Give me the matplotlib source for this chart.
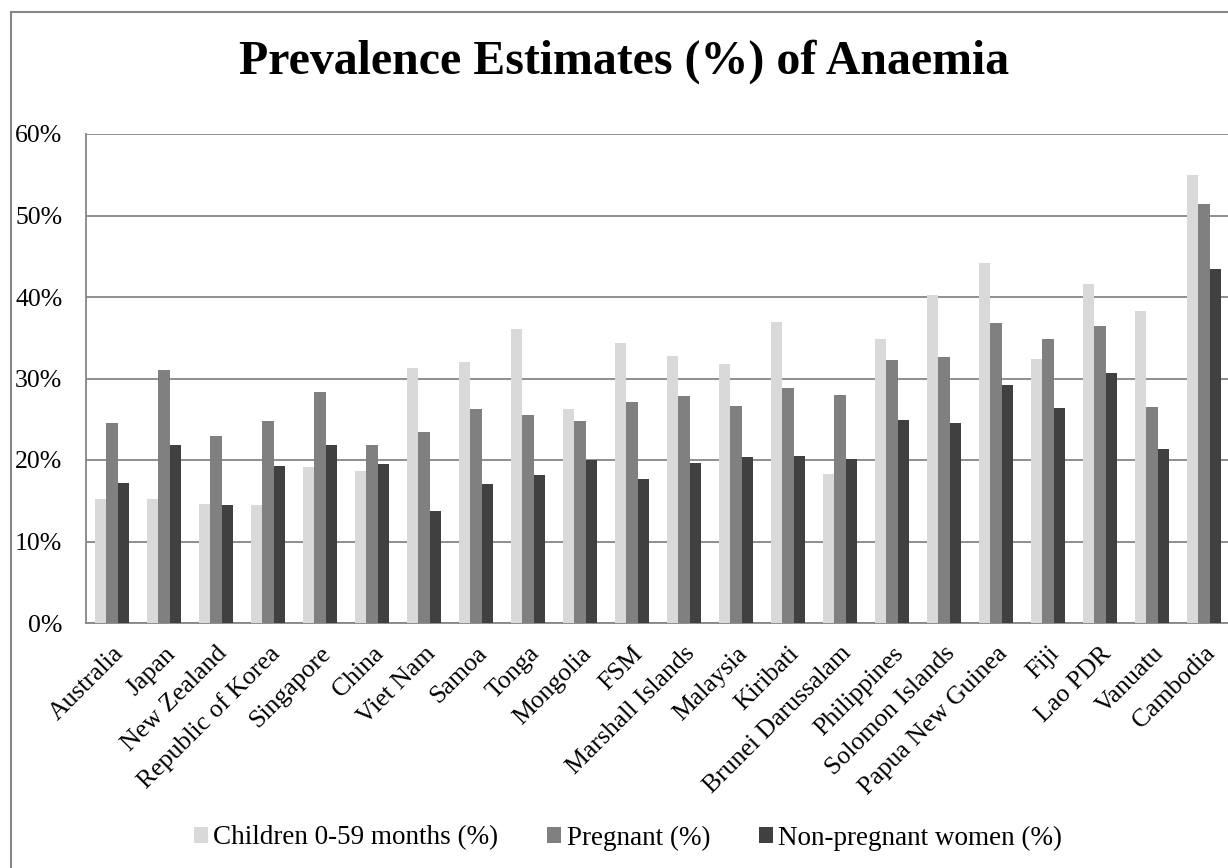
import numpy as np
import matplotlib
matplotlib.use("Agg")
import matplotlib.pyplot as plt
from matplotlib.patches import Rectangle
from matplotlib.ticker import PercentFormatter

plt.rcParams["font.family"] = ["Liberation Serif", "DejaVu Serif"]

countries = ["Australia", "Japan", "New Zealand", "Republic of Korea", "Singapore",
             "China", "Viet Nam", "Samoa", "Tonga", "Mongolia", "FSM",
             "Marshall Islands", "Malaysia", "Kiribati", "Brunei Darussalam",
             "Philippines", "Solomon Islands", "Papua New Guinea", "Fiji",
             "Lao PDR", "Vanuatu", "Cambodia"]

children = [15.2, 15.2, 14.6, 14.5, 19.1, 18.7, 31.3, 32.0, 36.1, 26.2, 34.4,
            32.8, 31.8, 36.9, 18.3, 34.9, 40.2, 44.2, 32.4, 41.6, 38.3, 55.0]
pregnant = [24.5, 31.1, 23.0, 24.8, 28.4, 21.8, 23.4, 26.2, 25.5, 24.8, 27.1,
            27.9, 26.6, 28.8, 28.0, 32.3, 32.6, 36.8, 34.9, 36.5, 26.5, 51.4]
non_pregnant = [17.2, 21.9, 14.5, 19.3, 21.8, 19.45, 13.7, 17.1, 18.1, 20.0, 17.7,
                19.6, 20.35, 20.5, 20.1, 24.9, 24.6, 29.2, 26.4, 30.7, 21.4, 43.4]

series = [("Children 0-59 months (%)", children, "#d9d9d9"),
          ("Pregnant (%)", pregnant, "#808080"),
          ("Non-pregnant women (%)", non_pregnant, "#404040")]

W, H = 1228, 868
fig = plt.figure(figsize=(W / 100, H / 100), dpi=100)

# chart border (Excel chart area)
fig.patches.append(Rectangle((11 / W, -0.01), 1.02, 1 - 12 / H + 0.01,
                             transform=fig.transFigure, fill=False,
                             edgecolor="#868686", linewidth=1.5))

ax = fig.add_axes([86 / W, 1 - 623 / H, 1144 / W, (623 - 134) / H])

x = np.arange(len(countries))
bw = 0.218
for i, (label, vals, color) in enumerate(series):
    ax.bar(x + (i - 1) * bw, vals, width=bw, color=color, label=label, zorder=3)

ax.set_xlim(-0.5, len(countries) - 0.5)
ax.set_ylim(0, 60)
ax.set_yticks(np.arange(0, 61, 10))
ax.yaxis.set_major_formatter(PercentFormatter(decimals=0))
ax.grid(axis="y", color="#868686", linewidth=1.3, zorder=0)
for side in ["top", "right"]:
    ax.spines[side].set_visible(False)
for side in ["left", "bottom"]:
    ax.spines[side].set_color("#868686")
    ax.spines[side].set_linewidth(1.3)
ax.tick_params(axis="y", length=0, pad=17, labelsize=18.5)
ax.tick_params(axis="x", length=0, pad=14, labelsize=18.5)
ax.set_xticks(x)
ax.set_xticklabels(countries, rotation=45, ha="right", rotation_mode="anchor")

fig.text(624 / W, 1 - 62 / H, "Prevalence Estimates (%) of Anaemia", ha="center",
         va="center", fontsize=34.5, fontweight="bold")

fig.legend(loc="center", bbox_to_anchor=(628 / W, 1 - 838 / H), ncol=3, frameon=False,
           fontsize=19.5, handlelength=0.52, handleheight=0.52, handletextpad=0.2,
           columnspacing=1.8)

fig.savefig("out.png", dpi=100)
